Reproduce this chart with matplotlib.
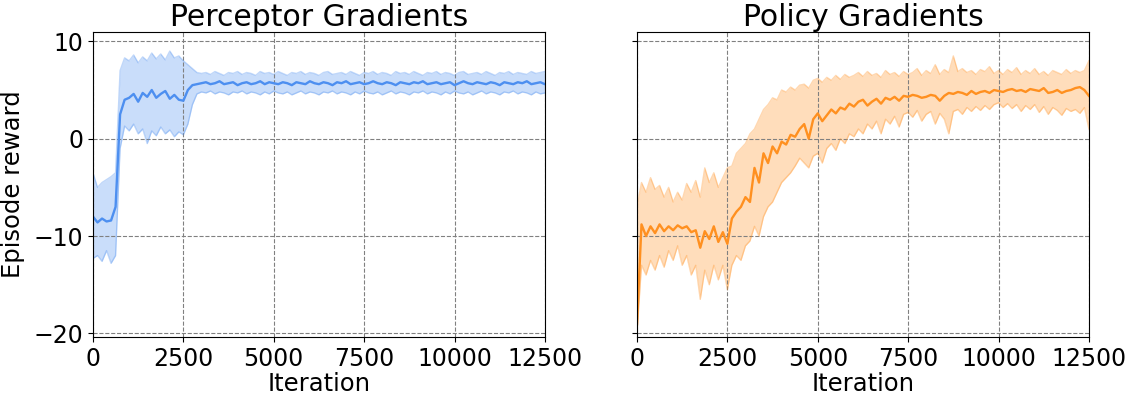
import numpy as np
import matplotlib
matplotlib.use("Agg")
import matplotlib.pyplot as plt

# --- values, one point every 125 iterations ---
perc_mean = [-8.0, -8.6, -8.2, -8.5, -8.4, -7.0, 2.5, 4.0, 4.2, 4.6,
             3.8, 4.7, 4.3, 5.0, 4.2, 4.6, 4.9, 4.1, 4.5, 4.0,
             3.9, 5.0, 5.5, 5.6, 5.7,
             5.8, 5.6, 5.7, 5.9, 5.6, 5.7, 5.8, 5.5, 5.7, 5.8,
             5.6, 5.7, 5.9, 5.6, 5.8, 5.7, 5.6, 5.8, 5.7, 5.5,
             5.8, 5.7, 5.6, 5.9, 5.7, 5.6, 5.8, 5.7, 5.5, 5.8,
             5.7, 5.9, 5.6, 5.7, 5.8, 5.6, 5.7, 5.9, 5.7, 5.6,
             5.8, 5.7, 5.5, 5.8, 5.7, 5.6, 5.8, 5.7, 5.9, 5.6,
             5.7, 5.8, 5.6, 5.7, 5.8, 5.5, 5.7, 5.9, 5.7, 5.6,
             5.8, 5.7, 5.6, 5.8, 5.7, 5.5, 5.8, 5.7, 5.6, 5.8,
             5.7, 5.9, 5.6, 5.7, 5.8, 5.6]
perc_upper = [-3.5, -5.0, -4.5, -4.2, -3.9, -3.5, 7.0, 8.3, 8.0, 8.6,
              7.8, 8.4, 8.0, 8.8, 8.2, 8.7, 8.1, 9.0, 8.3, 8.5,
              8.0, 7.6, 7.2, 6.8, 6.7,
              6.8, 6.6, 6.9, 6.7, 6.5, 6.8, 6.7, 6.9, 6.6, 6.8,
              6.7, 6.5, 6.9, 6.7, 6.8, 6.6, 6.9, 6.7, 6.5, 6.8,
              6.7, 6.9, 6.6, 6.8, 6.7, 6.5, 6.8, 6.9, 6.6, 6.7,
              6.8, 6.6, 6.9, 6.7, 6.5, 6.8, 6.7, 6.9, 6.6, 6.8,
              6.7, 6.5, 6.9, 6.7, 6.8, 6.6, 6.9, 6.7, 6.5, 6.8,
              6.7, 6.9, 6.6, 6.8, 6.7, 6.5, 6.8, 6.9, 6.6, 6.7,
              6.8, 6.6, 6.9, 6.7, 6.5, 6.8, 6.7, 6.9, 6.6, 6.8,
              6.7, 6.6, 6.9, 6.7, 6.8, 6.9]
perc_lower = [-12.3, -12.0, -12.6, -11.5, -12.8, -12.0, -1.0, 1.3, 0.8, 1.5,
              0.5, 1.0, -0.5, 0.8, 0.3, 1.2, 0.5, 0.9, 0.2, 0.7,
              0.4, 1.5, 3.5, 4.6, 4.8,
              4.7, 4.9, 4.6, 4.8, 4.7, 4.5, 4.8, 4.7, 4.9, 4.6,
              4.8, 4.7, 4.5, 4.8, 4.6, 4.9, 4.7, 4.6, 4.8, 4.5,
              4.7, 4.9, 4.6, 4.8, 4.7, 4.5, 4.8, 4.7, 4.9, 4.6,
              4.8, 4.7, 4.5, 4.8, 4.6, 4.9, 4.7, 4.6, 4.8, 4.5,
              4.7, 4.9, 4.6, 4.8, 4.7, 4.5, 4.8, 4.7, 4.9, 4.6,
              4.8, 4.7, 4.5, 4.8, 4.6, 4.9, 4.7, 4.6, 4.8, 4.5,
              4.7, 4.9, 4.6, 4.8, 4.7, 4.5, 4.8, 4.7, 4.9, 4.6,
              4.8, 4.7, 4.5, 4.8, 4.6, 4.7]

pol_mean = [-19.0, -8.8, -10.0, -9.0, -9.7, -8.8, -9.5, -9.0, -9.4, -8.9,
            -9.2, -9.0, -9.6, -9.4, -11.2, -9.5, -10.3, -9.0, -10.6, -9.6,
            -10.8, -8.2, -7.5, -7.0, -6.0, -6.5, -3.0, -4.5, -1.5, -2.5,
            -0.8, -1.5, -0.3, -0.6, 0.4, 0.2, 1.0, 1.5, 0.0, 2.0,
            2.6, 1.8, 2.4, 3.0, 2.6, 3.2, 3.0, 3.6, 3.3, 3.8,
            4.0, 3.4, 3.8, 4.1, 3.6, 4.2, 4.0, 4.3, 3.9, 4.4,
            4.3, 4.5, 4.4, 4.2, 4.3, 4.5, 4.4, 3.9, 4.4, 4.7,
            4.6, 4.8, 4.7, 4.5, 4.9, 4.6, 4.8, 4.9, 4.7, 5.0,
            4.9, 4.8, 5.0, 5.1, 4.9, 5.0, 4.8, 5.1, 5.0, 4.9,
            5.2, 4.7, 4.8, 5.0, 4.7, 4.9, 5.0, 5.2, 5.3, 5.0,
            4.4]
pol_upper = [-7.0, -4.5, -5.5, -4.0, -5.2, -4.8, -6.0, -5.0, -6.5, -5.5,
             -6.3, -4.6, -5.5, -4.3, -6.0, -3.0, -4.5, -3.5, -5.0, -4.0,
             -3.0, -2.8, -1.5, -1.0, -0.5, 0.5, 1.0, 2.0, 3.0, 3.5,
             4.2, 4.0, 5.0, 4.8, 5.3, 5.0, 5.5, 5.6, 5.2, 6.0,
             6.2, 5.8, 6.3, 6.0, 6.5, 6.1, 6.6, 6.3, 6.5, 6.8,
             6.4, 6.9, 6.5, 6.7, 6.3, 7.0, 6.6, 6.8, 6.4, 6.9,
             6.6, 6.8, 7.2, 6.5, 7.0, 6.7, 7.6, 6.6, 7.1, 6.8,
             8.5, 6.9, 7.2, 6.8, 7.0, 6.6, 7.1, 6.9, 7.4, 6.7,
             7.0, 6.6, 7.1, 6.8, 7.3, 6.6, 7.0, 6.7, 7.2, 6.6,
             6.9, 6.5, 7.0, 6.8, 6.6, 7.1, 6.7, 7.0, 6.8, 7.0,
             8.0]
pol_lower = [-20.0, -13.0, -14.0, -12.5, -13.5, -12.0, -13.2, -11.5, -12.5, -11.0,
             -13.0, -12.0, -14.0, -13.0, -16.5, -13.5, -15.0, -13.0, -14.5, -13.0,
             -15.5, -13.0, -12.0, -12.5, -11.0, -10.5, -9.0, -10.0, -8.0, -7.0,
             -6.5, -5.5, -4.5, -4.0, -3.5, -2.8, -2.0, -2.5, -3.0, -1.8,
             -1.5, -2.5, -1.0, -0.5, -1.2, 0.0, -0.5, 0.5, 0.2, 1.0,
             0.5, 1.5, 1.0, 1.8, 0.5, 2.0, 1.5, 2.3, 1.2, 2.5,
             2.7, 2.2, 2.9, 1.8, 2.5, 2.8, 1.5, 2.6, 2.0, 0.5,
             2.8, 3.0, 2.5, 3.2, 2.8, 3.3, 2.9, 3.4, 3.0, 3.5,
             3.7, 3.2, 3.6, 3.1, 3.5, 2.8, 3.4, 3.0, 3.5, 2.7,
             3.3, 2.5, 3.2, 2.9, 2.4, 3.1, 2.8, 3.0, 2.6, 3.2,
             1.0]

panels = [
    ("Perceptor Gradients", perc_mean, perc_lower, perc_upper, "#4d8ff0"),
    ("Policy Gradients", pol_mean, pol_lower, pol_upper, "#ff9020"),
]

plt.rcParams["font.size"] = 17
plt.rcParams["axes.labelsize"] = 17.5

fig = plt.figure(figsize=(11.27, 3.95), dpi=100)
ax1 = fig.add_axes([0.0825, 0.146, 0.401, 0.774])
ax2 = fig.add_axes([0.5652, 0.146, 0.401, 0.774], sharey=ax1)

for ax, (title, mean, lo, hi, col) in zip([ax1, ax2], panels):
    x = np.linspace(0, 12500, len(mean))
    ax.fill_between(x, lo, hi, color=col, alpha=0.3, linewidth=0)
    ax.plot(x, lo, color=col, alpha=0.35, linewidth=1)
    ax.plot(x, hi, color=col, alpha=0.35, linewidth=1)
    ax.plot(x, mean, color=col, linewidth=1.7)
    ax.set_title(title, fontsize=21.5, pad=4)
    ax.set_xlabel("Iteration", labelpad=1)
    ax.set_xlim(0, 12500)
    ax.set_xticks([0, 2500, 5000, 7500, 10000, 12500])
    ax.grid(True, linestyle="--", color="gray", linewidth=0.8)

ax1.set_ylim(-20.4, 11)
ax1.set_yticks([-20, -10, 0, 10])
ax1.set_ylabel("Episode reward", labelpad=6)
plt.setp(ax2.get_yticklabels(), visible=False)

fig.savefig("out.png", dpi=100)
